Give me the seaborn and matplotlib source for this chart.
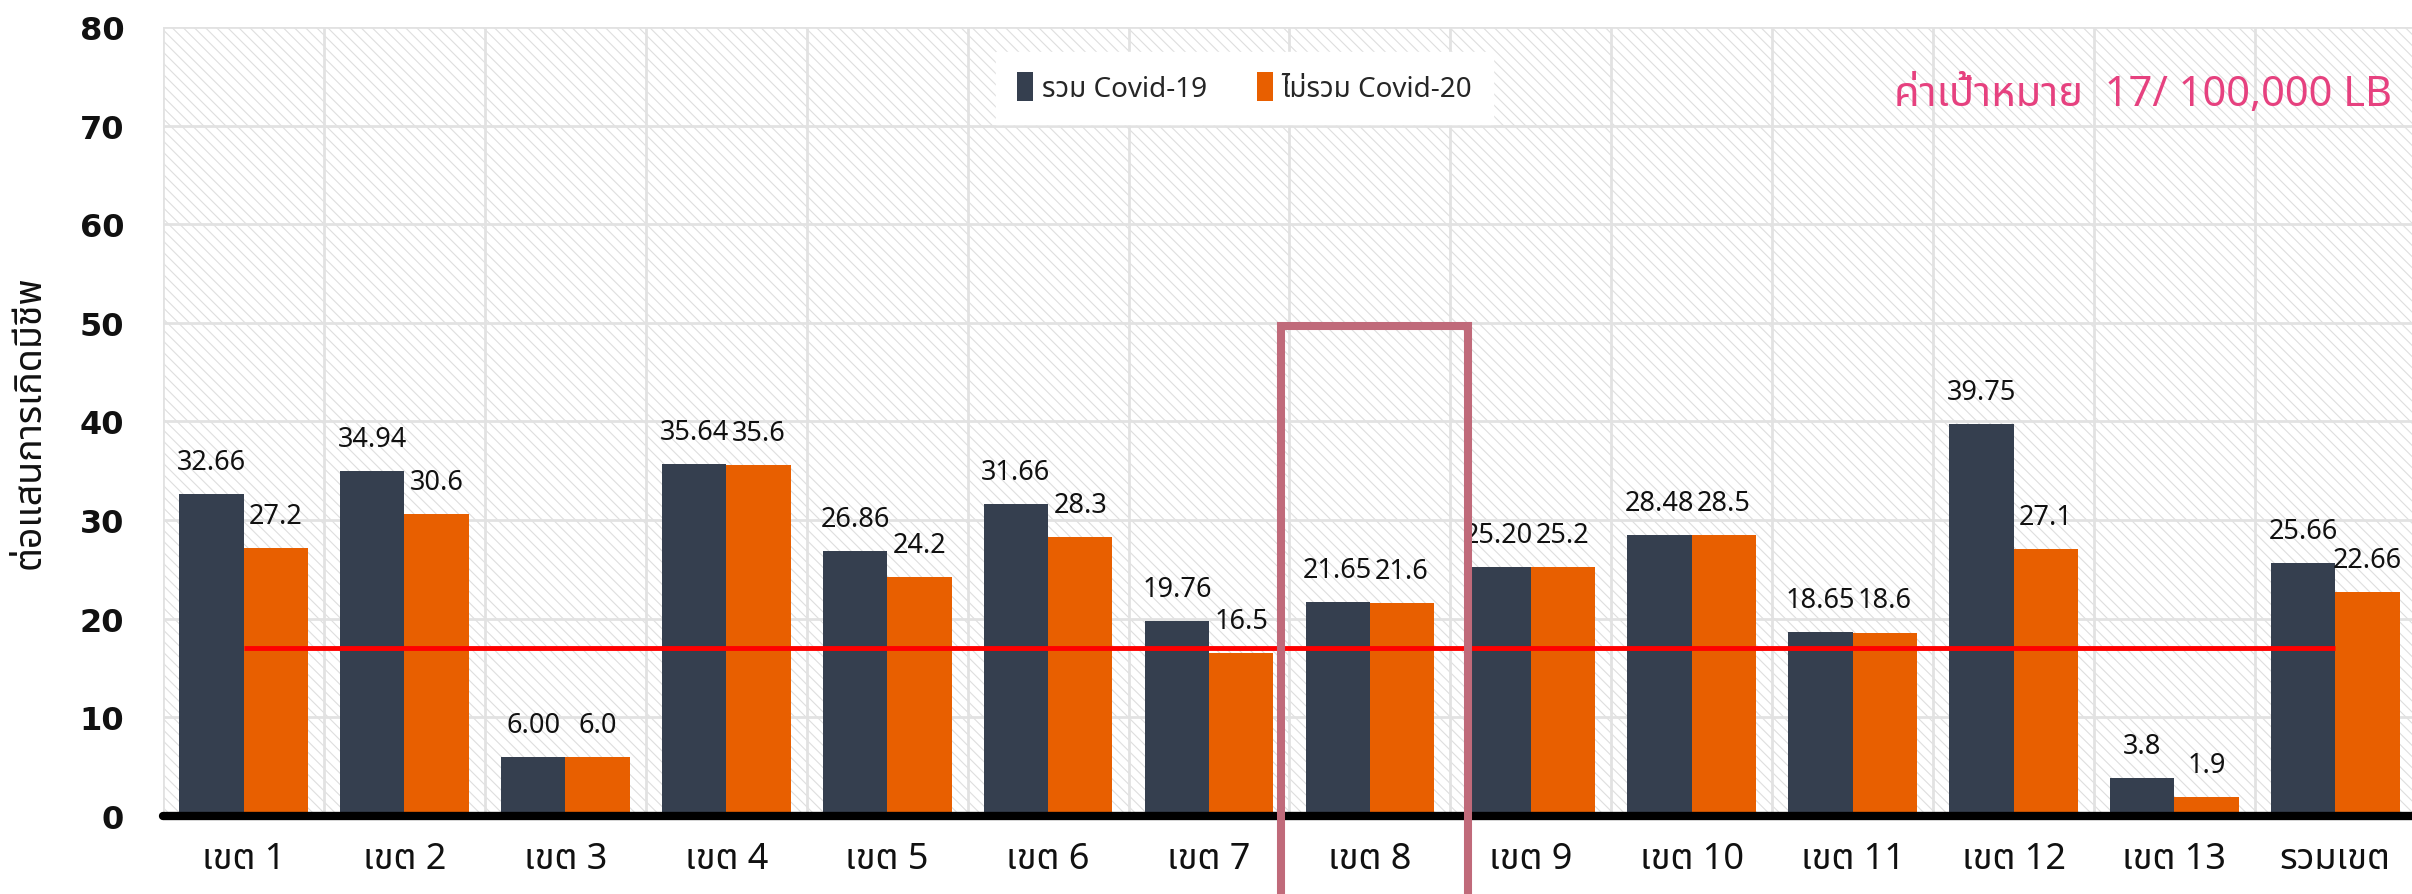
import matplotlib
matplotlib.use('Agg')
import matplotlib.pyplot as plt
import pandas as pd
import seaborn as sns
from matplotlib import font_manager
from matplotlib.patches import Rectangle
from fontTools.ttLib import TTFont

# data
zones = ['เขต 1', 'เขต 2', 'เขต 3', 'เขต 4', 'เขต 5', 'เขต 6', 'เขต 7',
         'เขต 8', 'เขต 9', 'เขต 10', 'เขต 11', 'เขต 12', 'เขต 13', 'รวมเขต']
series = ['รวม Covid-19', 'ไม่รวม Covid-20']
with_covid = [32.66, 34.94, 6.00, 35.64, 26.86, 31.66, 19.76,
              21.65, 25.20, 28.48, 18.65, 39.75, 3.8, 25.66]
without_covid = [27.2, 30.6, 6.0, 35.6, 24.2, 28.3, 16.5,
                 21.6, 25.2, 28.5, 18.6, 27.1, 1.9, 22.66]
with_labels = ['32.66', '34.94', '6.00', '35.64', '26.86', '31.66', '19.76',
               '21.65', '25.20', '28.48', '18.65', '39.75', '3.8', '25.66']
without_labels = ['27.2', '30.6', '6.0', '35.6', '24.2', '28.3', '16.5',
                  '21.6', '25.2', '28.5', '18.6', '27.1', '1.9', '22.66']
target = 17
target_text = 'ค่าเป้าหมาย  17/ 100,000 LB'
y_label = 'ต่อแสนการเกิดมีชีพ'
highlight_zone = 'เขต 8'

colors = ['#353f4f', '#e85f00']


def thai_family():
    found = []
    for f in font_manager.fontManager.ttflist:
        try:
            cmap = TTFont(f.fname, fontNumber=0, lazy=True).getBestCmap()
        except Exception:
            continue
        if cmap and 0x0E02 in cmap and f.name not in found:
            found.append(f.name)
    for name in ['Noto Sans Thai', 'Noto Sans Thai UI', 'Noto Sans Thai Looped',
                 'Loma', 'Garuda', 'Waree', 'Umpush', 'Kinnari']:
        if name in found:
            return name
    return found[0] if found else None


sns.set_theme(style='white')
thai = thai_family()
thai_list = [thai] if thai else []
plt.rcParams['font.family'] = ['Noto Sans'] + thai_list + ['DejaVu Sans']
plt.rcParams['hatch.color'] = '#dedede'
plt.rcParams['hatch.linewidth'] = 0.8
bold_family = ['DejaVu Sans'] + thai_list

df = pd.DataFrame({
    'zone': zones * 2,
    'value': with_covid + without_covid,
    'series': [series[0]] * len(zones) + [series[1]] * len(zones),
})

fig = plt.figure(figsize=(24.12, 8.95), dpi=100)
ax = fig.add_axes([0.0676, 0.0872, 0.934, 0.8816])

# hatched background
bg = Rectangle((0, 0), 1, 1, transform=ax.transAxes, facecolor='white',
               edgecolor='#dedede', lw=0, hatch='\\\\\\', zorder=0)
ax.add_patch(bg)

sns.barplot(data=df, x='zone', y='value', hue='series', palette=colors,
            width=0.8, gap=0, saturation=1, linewidth=0, ax=ax, zorder=2)

for cont, labs in zip(ax.containers, [with_labels, without_labels]):
    ax.bar_label(cont, labels=labs, padding=13, fontsize=19.5, color='#111111')

ax.set_xlim(-0.5, len(zones) - 0.5)
ax.set_ylim(0, 80)
ax.set_yticks(range(0, 81, 10))
ax.set_xticks([i - 0.5 for i in range(len(zones))], minor=True)
ax.set_axisbelow(True)
ax.grid(which='major', axis='y', color='#e2e2e2', lw=2)
ax.grid(which='minor', axis='x', color='#e2e2e2', lw=2)
ax.grid(which='major', axis='x', visible=False)
ax.tick_params(which='both', length=0)
ax.tick_params(axis='y', labelsize=23, pad=28)
ax.tick_params(axis='x', labelsize=26, pad=18)
for lab in ax.get_yticklabels():
    lab.set_family(bold_family)
    lab.set_fontweight('bold')
    lab.set_color('#111111')
for lab in ax.get_xticklabels():
    lab.set_fontweight('bold')
    lab.set_color('#111111')
ax.set_xlabel('')
ax.set_ylabel('')
for s in ax.spines.values():
    s.set_visible(False)

# baseline and target line
ax.axhline(0, color='black', lw=6, clip_on=False, zorder=4)
ax.hlines(target, 0, len(zones) - 1, color='#ff0000', lw=3.5, zorder=4)

# highlight box around one zone
hx = zones.index(highlight_zone)
ax.add_patch(Rectangle((hx - 0.553, -30), 1.162, 79.7, fill=False,
                       edgecolor='#c06a7a', lw=5.8, clip_on=False, zorder=6))

handles, labels = ax.get_legend_handles_labels()
ax.legend(handles, labels, loc='center', bbox_to_anchor=(0.48, 0.923), ncol=2,
          frameon=True, fancybox=False, facecolor='white', edgecolor='white',
          framealpha=1, prop={'size': 20, 'weight': 'bold'},
          handlelength=0.6, handleheight=1.2, handletextpad=0.3,
          columnspacing=1.8, borderpad=0.75, borderaxespad=0)

fig.text(30 / 2412, 1 - 422 / 895, y_label, rotation=90, ha='center',
         va='center', fontsize=27, fontweight='bold', color='#111111')
fig.text(2392 / 2412, 1 - 95 / 895, target_text, ha='right', va='center',
         fontsize=30, color='#e6417f')

fig.savefig('out.png', dpi=100)
